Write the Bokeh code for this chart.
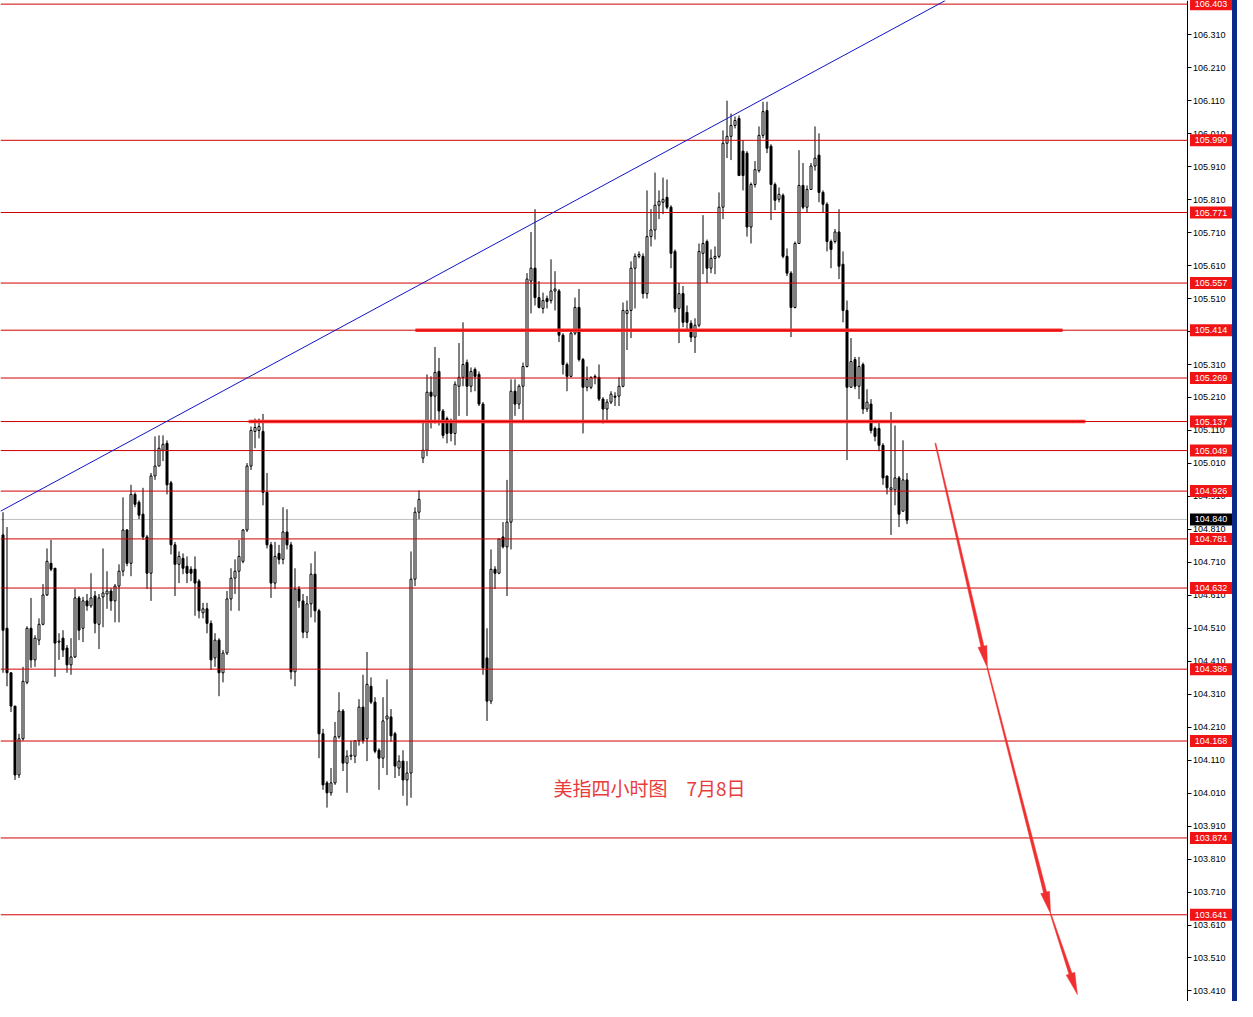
import math
from bokeh.plotting import figure
from bokeh.models import Range1d, FixedTicker, NumeralTickFormatter, LinearAxis, ColumnDataSource, Div
from bokeh.layouts import row
from bokeh.embed import file_html
from bokeh.resources import INLINE
from bokeh.core.properties import value

# ---------------- data (US dollar index, 4-hour candles) ----------------
opens = [
    104.793, 104.510, 104.375, 104.274, 104.065, 104.175, 104.346, 104.510, 104.414, 104.474,
    104.522, 104.611, 104.707, 104.692, 104.468, 104.480, 104.450, 104.399, 104.423, 104.602,
    104.510, 104.593, 104.578, 104.608, 104.522, 104.605, 104.614, 104.623, 104.593, 104.638,
    104.683, 104.808, 104.707, 104.916, 104.892, 104.856, 104.787, 104.677, 104.972, 105.002,
    105.050, 105.071, 104.951, 104.763, 104.704, 104.722, 104.698, 104.689, 104.689, 104.653,
    104.557, 104.569, 104.525, 104.420, 104.474, 104.375, 104.435, 104.599, 104.662, 104.683,
    104.713, 104.808, 105.002, 105.107, 105.110, 105.107, 104.922, 104.763, 104.647, 104.737,
    104.719, 104.802, 104.763, 104.378, 104.629, 104.593, 104.498, 104.584, 104.674, 104.563,
    104.190, 104.041, 104.011, 104.041, 104.181, 104.259, 104.101, 104.122, 104.122, 104.169,
    104.271, 104.175, 104.334, 104.286, 104.140, 104.116, 104.235, 104.241, 104.190, 104.086,
    104.107, 104.050, 104.071, 104.659, 104.862, 105.026, 105.050, 105.226, 105.214, 105.289,
    105.169, 105.146, 105.140, 105.101, 105.244, 105.271, 105.316, 105.244, 105.295, 105.280,
    105.190, 104.420, 104.289, 104.689, 104.677, 104.787, 104.757, 104.832, 105.229, 105.190,
    105.244, 105.304, 105.563, 105.602, 105.513, 105.480, 105.510, 105.504, 105.533, 105.533,
    105.399, 105.310, 105.274, 105.405, 105.483, 105.325, 105.241, 105.241, 105.274, 105.271,
    105.205, 105.175, 105.196, 105.214, 105.214, 105.244, 105.465, 105.474, 105.602, 105.638,
    105.638, 105.525, 105.698, 105.718, 105.793, 105.802, 105.817, 105.787, 105.653, 105.480,
    105.525, 105.468, 105.435, 105.393, 105.429, 105.647, 105.683, 105.602, 105.632, 105.638,
    105.787, 105.981, 106.002, 106.035, 106.056, 105.957, 105.951, 105.727, 105.856, 105.898,
    106.005, 106.080, 105.972, 105.856, 105.811, 105.823, 105.638, 105.587, 105.483, 105.677,
    105.853, 105.787, 105.841, 105.912, 105.945, 105.832, 105.796, 105.683, 105.683, 105.712,
    105.614, 105.474, 105.241, 105.325, 105.244, 105.310, 105.175, 105.190, 105.116, 105.116,
    105.065, 104.972, 104.930, 104.930, 104.966, 104.865, 104.960,
]
highs = [
    104.862, 104.817, 104.375, 104.274, 104.190, 104.393, 104.516, 104.602, 104.489, 104.540,
    104.644, 104.752, 104.778, 104.692, 104.495, 104.504, 104.459, 104.480, 104.629, 104.608,
    104.605, 104.614, 104.677, 104.623, 104.614, 104.752, 104.683, 104.632, 104.644, 104.704,
    104.907, 104.811, 104.945, 104.922, 104.898, 104.936, 104.793, 104.981, 105.092, 105.095,
    105.095, 105.080, 104.957, 104.772, 104.743, 104.737, 104.728, 104.698, 104.728, 104.659,
    104.587, 104.587, 104.534, 104.495, 104.480, 104.444, 104.623, 104.692, 104.719, 104.778,
    104.811, 105.011, 105.122, 105.146, 105.146, 105.160, 104.981, 104.772, 104.772, 104.763,
    104.877, 104.871, 104.772, 104.692, 104.638, 104.614, 104.608, 104.707, 104.743, 104.569,
    104.205, 104.047, 104.086, 104.226, 104.316, 104.265, 104.140, 104.169, 104.169, 104.295,
    104.369, 104.438, 104.361, 104.301, 104.146, 104.301, 104.355, 104.265, 104.196, 104.125,
    104.140, 104.107, 104.743, 104.877, 104.928, 105.137, 105.280, 105.274, 105.363, 105.330,
    105.175, 105.152, 105.146, 105.259, 105.375, 105.438, 105.325, 105.301, 105.301, 105.289,
    105.196, 104.510, 104.749, 104.698, 104.781, 104.832, 104.960, 105.265, 105.265, 105.250,
    105.316, 105.587, 105.712, 105.781, 105.563, 105.528, 105.519, 105.629, 105.593, 105.539,
    105.405, 105.316, 105.414, 105.513, 105.539, 105.330, 105.304, 105.274, 105.280, 105.310,
    105.211, 105.205, 105.229, 105.226, 105.271, 105.498, 105.504, 105.623, 105.647, 105.653,
    105.647, 105.838, 105.781, 105.892, 105.838, 105.877, 105.871, 105.793, 105.659, 105.557,
    105.548, 105.489, 105.444, 105.450, 105.677, 105.763, 105.689, 105.659, 105.668, 105.832,
    106.020, 106.110, 106.071, 106.062, 106.065, 105.990, 105.957, 105.862, 105.927, 106.032,
    106.107, 106.107, 105.978, 105.862, 105.847, 105.829, 105.662, 105.593, 105.683, 105.960,
    105.921, 105.853, 105.921, 106.032, 106.011, 105.838, 105.802, 105.689, 105.721, 105.781,
    105.653, 105.504, 105.390, 105.333, 105.333, 105.316, 105.235, 105.205, 105.122, 105.140,
    105.071, 104.972, 105.166, 105.125, 104.972, 105.080, 104.981,
]
lows = [
    104.375, 104.334, 104.256, 104.050, 104.056, 104.169, 104.340, 104.390, 104.393, 104.459,
    104.519, 104.608, 104.683, 104.363, 104.414, 104.423, 104.375, 104.369, 104.420, 104.474,
    104.468, 104.563, 104.572, 104.495, 104.447, 104.513, 104.569, 104.563, 104.528, 104.528,
    104.668, 104.698, 104.668, 104.877, 104.841, 104.778, 104.629, 104.593, 104.960, 105.002,
    105.017, 104.916, 104.734, 104.608, 104.647, 104.674, 104.647, 104.653, 104.548, 104.540,
    104.540, 104.495, 104.384, 104.393, 104.304, 104.346, 104.429, 104.563, 104.614, 104.563,
    104.707, 104.802, 104.990, 105.056, 105.086, 104.883, 104.752, 104.602, 104.629, 104.704,
    104.704, 104.749, 104.355, 104.334, 104.572, 104.480, 104.480, 104.543, 104.528, 104.116,
    104.020, 103.966, 104.002, 104.035, 104.175, 104.077, 104.011, 104.110, 104.101, 104.154,
    104.160, 104.107, 104.280, 104.131, 104.020, 104.086, 104.065, 104.166, 104.056, 104.062,
    104.002, 103.972, 103.996, 104.638, 104.841, 105.011, 105.032, 105.116, 105.131, 105.125,
    105.086, 105.071, 105.077, 105.065, 105.154, 105.244, 105.154, 105.226, 105.229, 105.184,
    104.369, 104.229, 104.280, 104.629, 104.674, 104.752, 104.608, 104.749, 105.154, 105.175,
    105.140, 105.301, 105.465, 105.489, 105.480, 105.465, 105.480, 105.495, 105.474, 105.378,
    105.280, 105.229, 105.271, 105.399, 105.319, 105.101, 105.229, 105.235, 105.250, 105.199,
    105.131, 105.140, 105.190, 105.184, 105.184, 105.241, 105.354, 105.390, 105.480, 105.632,
    105.510, 105.510, 105.668, 105.689, 105.751, 105.766, 105.781, 105.602, 105.468, 105.375,
    105.423, 105.414, 105.378, 105.345, 105.423, 105.584, 105.557, 105.587, 105.584, 105.632,
    105.751, 105.936, 105.930, 106.026, 105.883, 105.838, 105.698, 105.677, 105.847, 105.892,
    105.996, 105.951, 105.748, 105.778, 105.802, 105.632, 105.578, 105.393, 105.480, 105.677,
    105.781, 105.772, 105.841, 105.898, 105.802, 105.772, 105.653, 105.602, 105.677, 105.569,
    105.438, 105.020, 105.241, 105.235, 105.205, 105.160, 105.166, 105.101, 105.077, 105.047,
    104.945, 104.916, 104.793, 104.883, 104.817, 104.865, 104.826,
]
closes = [
    104.504, 104.375, 104.274, 104.065, 104.175, 104.349, 104.510, 104.414, 104.480, 104.522,
    104.611, 104.713, 104.689, 104.465, 104.471, 104.444, 104.399, 104.423, 104.602, 104.504,
    104.593, 104.578, 104.602, 104.525, 104.602, 104.617, 104.623, 104.593, 104.638, 104.683,
    104.808, 104.707, 104.916, 104.886, 104.853, 104.787, 104.677, 104.972, 105.002, 105.056,
    105.068, 104.945, 104.763, 104.704, 104.728, 104.692, 104.677, 104.677, 104.647, 104.563,
    104.569, 104.525, 104.414, 104.474, 104.375, 104.435, 104.599, 104.662, 104.683, 104.728,
    104.808, 105.002, 105.110, 105.119, 105.122, 104.922, 104.763, 104.647, 104.728, 104.719,
    104.802, 104.763, 104.378, 104.629, 104.593, 104.498, 104.584, 104.674, 104.563, 104.190,
    104.035, 104.011, 104.041, 104.181, 104.259, 104.101, 104.122, 104.125, 104.169, 104.271,
    104.169, 104.340, 104.286, 104.137, 104.116, 104.229, 104.244, 104.184, 104.092, 104.107,
    104.050, 104.071, 104.659, 104.862, 104.901, 105.050, 105.226, 105.214, 105.286, 105.169,
    105.095, 105.101, 105.101, 105.250, 105.271, 105.310, 105.244, 105.289, 105.274, 105.190,
    104.390, 104.289, 104.689, 104.677, 104.781, 104.757, 104.832, 105.229, 105.190, 105.244,
    105.304, 105.569, 105.602, 105.513, 105.483, 105.504, 105.501, 105.533, 105.539, 105.399,
    105.310, 105.274, 105.405, 105.483, 105.325, 105.241, 105.265, 105.271, 105.271, 105.205,
    105.175, 105.196, 105.220, 105.211, 105.244, 105.474, 105.474, 105.602, 105.638, 105.644,
    105.525, 105.698, 105.718, 105.793, 105.805, 105.811, 105.787, 105.647, 105.480, 105.525,
    105.438, 105.438, 105.393, 105.429, 105.653, 105.677, 105.602, 105.632, 105.638, 105.787,
    105.981, 106.002, 106.035, 106.050, 105.883, 105.883, 105.727, 105.856, 105.901, 106.005,
    106.077, 105.966, 105.856, 105.808, 105.826, 105.638, 105.587, 105.483, 105.677, 105.853,
    105.787, 105.841, 105.912, 105.936, 105.832, 105.796, 105.683, 105.659, 105.712, 105.608,
    105.474, 105.241, 105.319, 105.244, 105.304, 105.175, 105.196, 105.110, 105.092, 105.065,
    104.966, 104.936, 104.936, 104.966, 104.856, 104.960, 104.838,
]

# horizontal price levels (thin red lines with red price tags)
level_prices = [106.403, 105.990, 105.771, 105.557, 105.414, 105.269, 105.137, 105.049,
                104.926, 104.781, 104.632, 104.386, 104.168, 103.874, 103.641]
current_price = 104.840

# right-axis tick labels
axis_ticks = [103.410, 103.510, 103.610, 103.710, 103.810, 103.910, 104.010, 104.110, 104.210, 104.310,
              104.410, 104.510, 104.610, 104.710, 104.810, 104.910, 105.010, 105.110, 105.210, 105.310,
              105.410, 105.510, 105.610, 105.710, 105.810, 105.910, 106.010, 106.110, 106.210, 106.310]

# drawn objects (bar index, price)
zone_prices = [105.414, 105.137]
zone_start = [103.1, 61.4]
zone_end = [264.9, 270.6]
trend_bars = [-0.625, 235.6]
trend_prices = [104.865, 106.414]
arrow_bars = [233.1, 246.1, 261.9, 268.6]
arrow_prices = [105.071, 104.390, 103.644, 103.399]
title_text = "美指四小时图　7月8日"
title_bar = 137.6
title_price = 104.026

# ---------------- figure ----------------
W, H = 1232, 1001
PX = 4.0                      # pixels per bar
X0 = -0.625
X1 = X0 + W / PX              # frame spans the whole width
AXIS_X = 296.0                # bar coordinate of the price axis line
Y0, Y1 = 103.378, 106.414
PY = H / (Y1 - Y0)

p = figure(width=W, height=H, x_range=Range1d(X0, X1), y_range=Range1d(Y0, Y1),
           output_backend="svg", toolbar_location=None, tools="",
           x_axis_location=None, y_axis_location=None,
           min_border=0, min_border_left=0, min_border_top=0, min_border_bottom=0, min_border_right=0,
           background_fill_color="white", border_fill_color="white", outline_line_color=None)
p.grid.visible = False

ax = LinearAxis(fixed_location=AXIS_X)
ax.ticker = FixedTicker(ticks=axis_ticks)
ax.formatter = NumeralTickFormatter(format="0.000")
ax.major_tick_out = 4
ax.major_tick_in = 0
ax.minor_tick_out = 0
ax.minor_tick_in = 0
ax.major_label_standoff = 2
ax.major_label_text_font = "Liberation Sans"
ax.major_label_text_font_size = "9px"
ax.major_label_text_color = "#000000"
ax.axis_line_color = "#000000"
ax.major_tick_line_color = "#000000"
p.add_layout(ax, "right")

# current bid line (behind candles)
p.segment(x0=[X0], y0=[current_price], x1=[AXIS_X], y1=[current_price],
          line_color="#c0c0c0", line_width=1)

# candles
n = len(opens)
idx = list(range(n))
src = ColumnDataSource(dict(
    x=idx, h=highs, l=lows,
    top=[max(o, c) for o, c in zip(opens, closes)],
    bottom=[min(o, c) for o, c in zip(opens, closes)],
    fill=["white" if c >= o else "black" for o, c in zip(opens, closes)],
))
p.segment(x0="x", y0="l", x1="x", y1="h", source=src, line_color="black", line_width=1)
p.vbar(x="x", width=0.5, top="top", bottom="bottom", fill_color="fill",
       line_color="black", line_width=1, source=src)

# thick zone lines
p.segment(x0=zone_start, y0=zone_prices, x1=zone_end, y1=zone_prices,
          line_color="#ff3434", line_width=3.5)

# level lines (over the candles)
for lp in level_prices:
    p.line(x=[X0, AXIS_X], y=[lp, lp], line_color="#d00000", line_width=1)

# trend line
p.line(trend_bars, trend_prices, line_color="#1414c8", line_width=1)

# arrows as tapered polygons
for i in range(len(arrow_bars) - 1):
    ax0, ay0 = arrow_bars[i] * PX, arrow_prices[i] * PY
    ax1, ay1 = arrow_bars[i + 1] * PX, arrow_prices[i + 1] * PY
    dx, dy = ax1 - ax0, ay1 - ay0
    L = math.hypot(dx, dy)
    ux, uy = dx / L, dy / L
    nx, ny = -uy, ux
    head_len, head_w, w0, w1 = 22.0, 9.0, 1.0, 3.2
    bx, by = ax1 - ux * head_len, ay1 - uy * head_len
    pts = [
        (ax0 + nx * w0 / 2, ay0 + ny * w0 / 2),
        (bx + nx * w1 / 2, by + ny * w1 / 2),
        (bx + nx * head_w / 2, by + ny * head_w / 2),
        (ax1, ay1),
        (bx - nx * head_w / 2, by - ny * head_w / 2),
        (bx - nx * w1 / 2, by - ny * w1 / 2),
        (ax0 - nx * w0 / 2, ay0 - ny * w0 / 2),
    ]
    p.patch([q[0] / PX for q in pts], [q[1] / PY for q in pts],
            fill_color="#f03030", line_color="#f03030", line_width=0.5)

# caption
p.text(x=[title_bar], y=[title_price], text=[title_text],
       text_font=value("Noto Sans CJK SC"), text_font_size="19px",
       text_color="#e83c3c", text_baseline="middle", text_align="left")

# price tags on the axis (drawn above the axis labels)
TAG_W, TAG_H, TAG_GAP = 42, 12, 3
tag_x = AXIS_X + (TAG_GAP + TAG_W / 2) / PX
tags = level_prices + [current_price]
tag_fill = ["#f01414"] * len(level_prices) + ["#000000"]
r_box = p.rect(x=[tag_x] * len(tags), y=tags, width=TAG_W, height=TAG_H,
               width_units="screen", height_units="screen",
               fill_color=tag_fill, line_color=None)
r_box.level = "overlay"
r_txt = p.text(x=[tag_x] * len(tags), y=tags, text=[f"{t:.3f}" for t in tags],
               text_font=value("Liberation Sans"), text_font_size="9px", text_color="white",
               text_align="center", text_baseline="middle")
r_txt.level = "overlay"

strip = Div(text="", width=5, height=H, margin=0,
            styles={"background-color": "#0c2a8c"})
layout = row(p, strip)

open("out.html", "w").write(file_html(layout, INLINE))
